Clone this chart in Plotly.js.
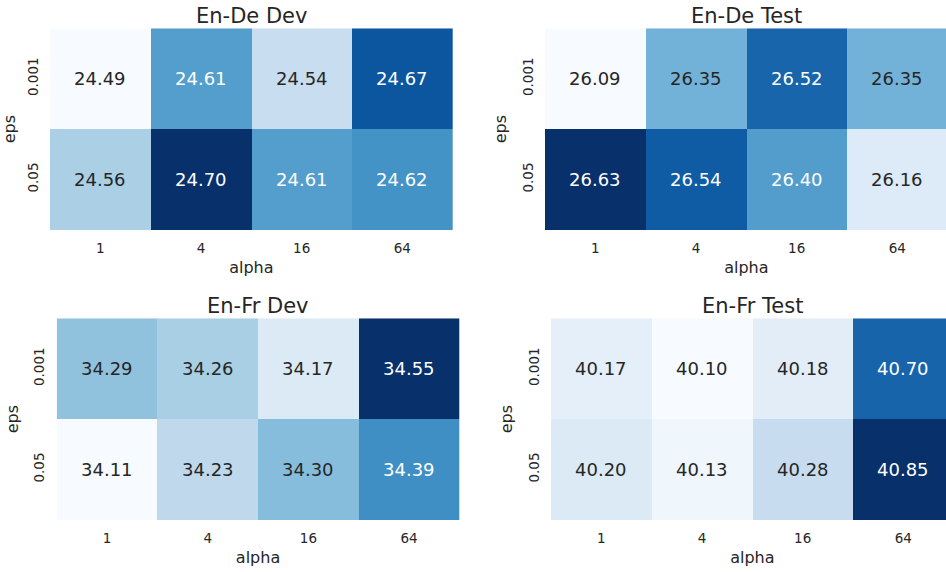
<!DOCTYPE html>
<html>
<head>
<meta charset="utf-8">
<script src="https://cdn.plot.ly/plotly-3.0.1.min.js"></script>
<style>html,body{margin:0;padding:0;overflow:hidden;background:#fff;}#chart{width:960px;height:572px;}</style>
</head>
<body>
<div id="chart"></div>
<script>
const alphaLabels = ['1', '4', '16', '64'];
const epsLabels = ['0.001', '0.05'];
const titles = ['En-De Dev', 'En-De Test', 'En-Fr Dev', 'En-Fr Test'];
const enDeDev = [[24.49, 24.61, 24.54, 24.67], [24.56, 24.70, 24.61, 24.62]];
const enDeTest = [[26.09, 26.35, 26.52, 26.35], [26.63, 26.54, 26.40, 26.16]];
const enFrDev = [[34.29, 34.26, 34.17, 34.55], [34.11, 34.23, 34.30, 34.39]];
const enFrTest = [[40.17, 40.10, 40.18, 40.70], [40.20, 40.13, 40.28, 40.85]];
const panels = [enDeDev, enDeTest, enFrDev, enFrTest];

const blues = ['#f7fbff','#deebf7','#c6dbef','#9ecae1','#6baed6','#4292c6','#2171b5','#08519c','#08306b'];
const colorscale = blues.map((c, i) => [i / (blues.length - 1), c]);

function hexToRgb(h){return [parseInt(h.slice(1,3),16),parseInt(h.slice(3,5),16),parseInt(h.slice(5,7),16)];}
function colorAt(t){
  const n = blues.length - 1;
  const p = Math.min(Math.max(t,0),1) * n;
  const i = Math.min(Math.floor(p), n - 1);
  const f = p - i;
  const a = hexToRgb(blues[i]), b = hexToRgb(blues[i+1]);
  return a.map((v,k)=>v + (b[k]-v)*f);
}
function lum(rgb){
  const c = rgb.map(v=>{v/=255;return v<=0.03928? v/12.92 : Math.pow((v+0.055)/1.055,2.4);});
  return 0.2126*c[0]+0.7152*c[1]+0.0722*c[2];
}

const W = 960, H = 572;
const boxes = [
  [50, 452.7, 28.3, 230],
  [545, 947.7, 28.3, 230],
  [56.7, 459.4, 318.3, 520],
  [551, 953.7, 318.3, 520]
];
const textColor = '#262626';
const font = 'DejaVu Sans, sans-serif';

const data = [];
const layout = {
  width: W, height: H,
  margin: {l:0, r:0, t:0, b:0},
  paper_bgcolor: '#fff', plot_bgcolor: '#fff',
  font: {family: font, color: textColor},
  showlegend: false,
  annotations: []
};

panels.forEach((z, idx) => {
  const n = idx + 1;
  const xa = 'x' + (n === 1 ? '' : n), ya = 'y' + (n === 1 ? '' : n);
  const xk = 'xaxis' + (n === 1 ? '' : n), yk = 'yaxis' + (n === 1 ? '' : n);
  const flat = z.flat();
  const zmin = Math.min(...flat), zmax = Math.max(...flat);
  data.push({
    type: 'heatmap', z: z, x: alphaLabels, y: epsLabels,
    xaxis: xa, yaxis: ya, colorscale: colorscale, zmin: zmin, zmax: zmax,
    showscale: false, hoverinfo: 'skip'
  });
  const b = boxes[idx];
  layout[xk] = {
    domain: [b[0]/W, b[1]/W], anchor: ya, type: 'category',
    categoryorder: 'array', categoryarray: alphaLabels,
    range: [-0.5, alphaLabels.length - 0.5], autorange: false,
    showgrid: false, zeroline: false, showline: false,
    ticks: 'outside', ticklen: 6, tickcolor: 'rgba(0,0,0,0)',
    tickfont: {size: 13.5, color: textColor, family: font},
    title: {text: 'alpha', font: {size: 16, color: textColor, family: font}, standoff: 6},
    fixedrange: true
  };
  layout[yk] = {
    domain: [1 - b[3]/H, 1 - b[2]/H], anchor: xa, type: 'category',
    categoryorder: 'array', categoryarray: epsLabels,
    range: [epsLabels.length - 0.5, -0.5], autorange: false,
    showgrid: false, zeroline: false, showline: false,
    ticks: 'outside', ticklen: 6, tickcolor: 'rgba(0,0,0,0)',
    tickangle: -90,
    tickfont: {size: 13.5, color: textColor, family: font},
    title: {text: 'eps', font: {size: 16, color: textColor, family: font}, standoff: 8},
    fixedrange: true
  };
  layout.annotations.push({
    text: titles[idx], xref: 'paper', yref: 'paper',
    x: ((b[0]+b[1])/2)/W, y: 1 - (b[2]-12.5)/H, xanchor: 'center', yanchor: 'middle',
    showarrow: false, font: {size: 21, color: textColor, family: font}
  });
  z.forEach((row, r) => row.forEach((v, c) => {
    const t = (v - zmin) / (zmax - zmin);
    const col = lum(colorAt(t)) > 0.37 ? textColor : '#ffffff';
    layout.annotations.push({
      text: v.toFixed(2), xref: xa, yref: ya, x: c, y: r,
      showarrow: false, font: {size: 18, color: col, family: font}
    });
  }));
});

Plotly.newPlot('chart', data, layout, {displayModeBar: false, staticPlot: true});
</script>
</body>
</html>
